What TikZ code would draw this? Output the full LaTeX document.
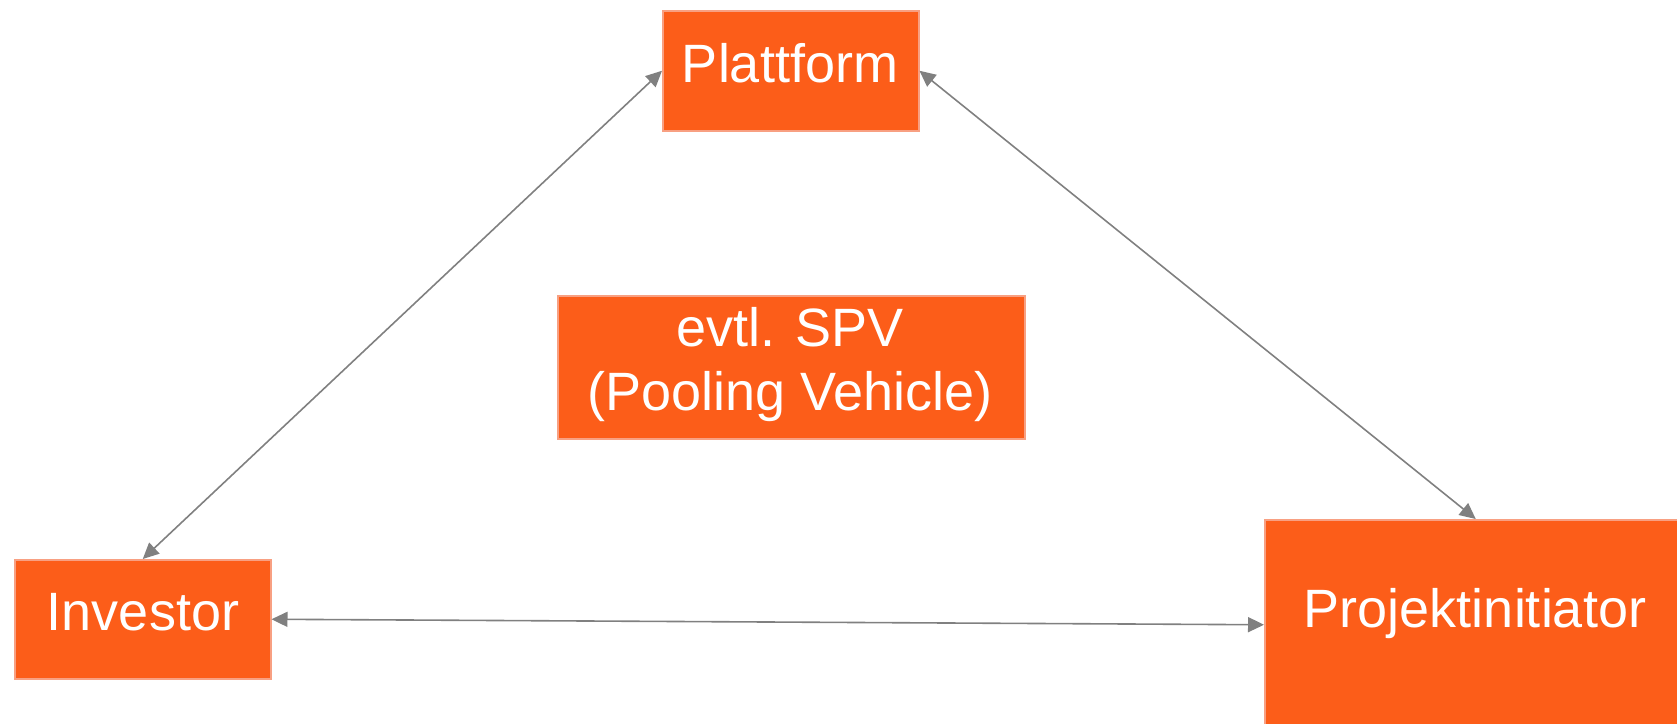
\documentclass[tikz,border=0pt]{standalone}
\usepackage{fontspec}
\setmainfont{Liberation Sans}
\usetikzlibrary{arrows.meta}
\definecolor{boxfill}{RGB}{252,93,25}
\definecolor{boxedge}{RGB}{248,160,130}
\definecolor{conncol}{RGB}{128,128,128}
\tikzset{
  box/.style={rectangle, fill=boxfill, draw=boxedge, line width=1.5pt, inner sep=0pt, anchor=north west},
  lbl/.style={text=white, font=\fontsize{54}{64}\selectfont, inner sep=0pt, anchor=base},
  conn/.style={draw=conncol, line width=1.6pt, {Triangle[length=16pt,width=15pt]}-{Triangle[length=16pt,width=15pt]}}
}
\begin{document}
\begin{tikzpicture}[x=1pt,y=-1pt]
\useasboundingbox (0,0) rectangle (1677,723);
\clip (0,0) rectangle (1677,723);
\node[box, minimum width=256pt, minimum height=120pt] (plat) at (662,10) {};
\node[box, minimum width=467pt, minimum height=143pt] (spv) at (557,295) {};
\node[box, minimum width=256pt, minimum height=119pt] (inv) at (14,559) {};
\node[box, minimum width=422pt, minimum height=210pt] (proj) at (1264,519) {};
\node[lbl] (platt) at (790,82) {Plattform};
\node[lbl] (spvt1) at (790,346) {evtl. SPV};
\node[lbl] (spvt2) at (790,410) {(Pooling Vehicle)};
\node[lbl] (invt) at (143,630) {Investor};
\node[lbl] (projt) at (1475,627) {Projektinitiator};
\draw[conn] (plat.west) -- (inv.north);
\draw[conn] (plat.east) -- (proj.north);
\draw[conn] (inv.east) -- (proj.west);
\end{tikzpicture}
\end{document}
